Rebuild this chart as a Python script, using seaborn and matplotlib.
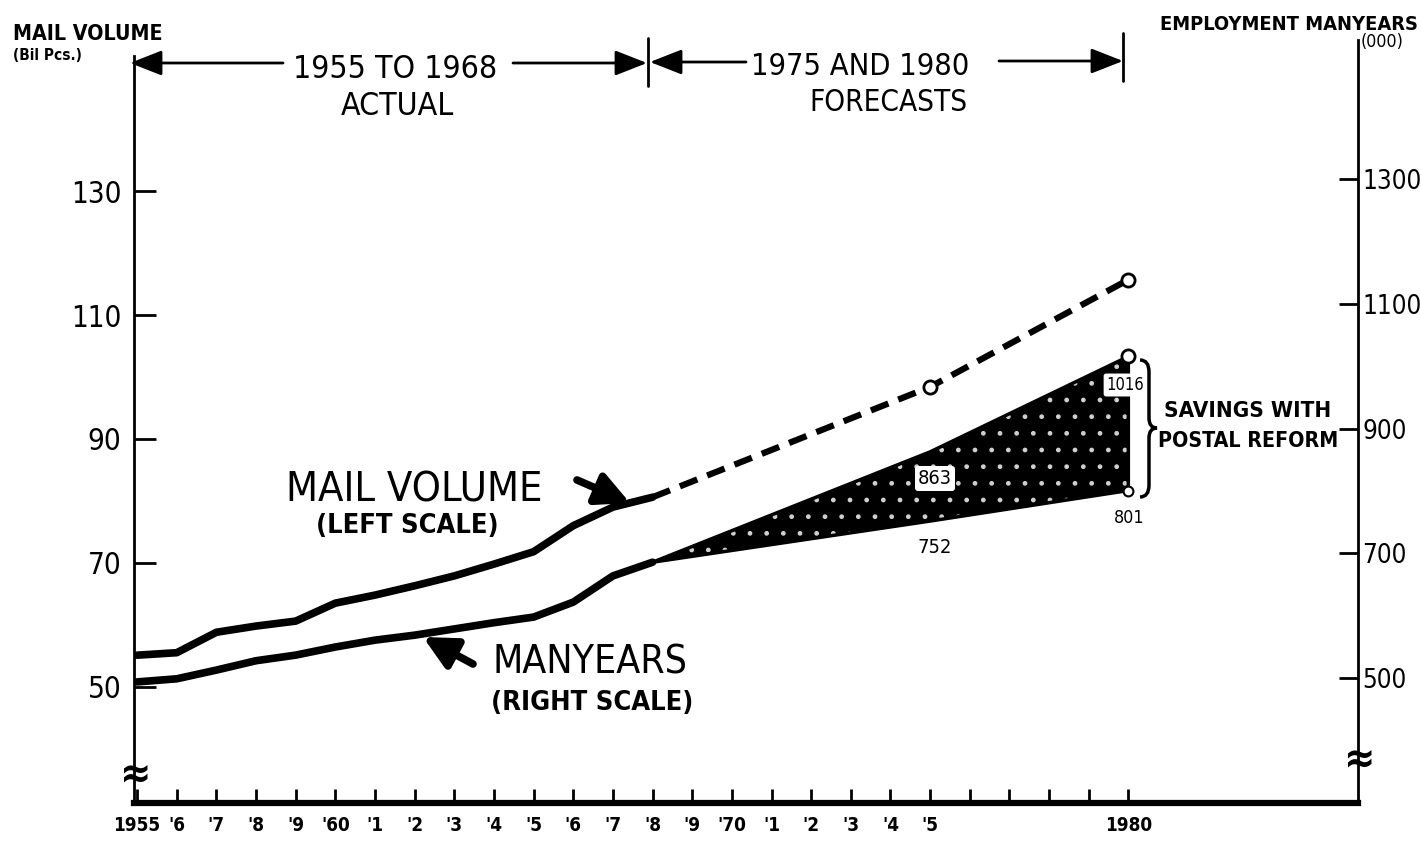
import matplotlib
matplotlib.use("Agg")
import matplotlib.pyplot as plt
from matplotlib import font_manager as fm
from matplotlib.path import Path
from matplotlib.patches import PathPatch
import pandas as pd
import seaborn as sns

# ---------------- data ----------------
years = [1955, 1956, 1957, 1958, 1959, 1960, 1961, 1962, 1963, 1964, 1965, 1966, 1967, 1968]
mail_volume = [55.1, 55.5, 58.8, 59.8, 60.6, 63.5, 64.8, 66.3, 67.9, 69.8, 71.8, 76.0, 79.0, 80.6]
manyears = [494, 499, 513, 528, 537, 550, 561, 569, 579, 589, 598, 622, 664, 686]

forecast_years = [1968, 1975, 1980]
mail_forecast = [80.6, 98.4, 115.7]
manyears_forecast_low = [686, 752, 801]
manyears_forecast_high = [686, 863, 1016]

left_ticks = [50, 70, 90, 110, 130]
right_ticks = [500, 700, 900, 1100, 1300]
x_ticks = list(range(1955, 1981))
x_tick_labels = ["1955", "'6", "'7", "'8", "'9", "'60", "'1", "'2", "'3", "'4", "'5",
                 "'6", "'7", "'8", "'9", "'70", "'1", "'2", "'3", "'4", "'5",
                 "", "", "", "", "1980"]

actual = pd.DataFrame({"year": years, "mail": mail_volume, "manyears": manyears})
forecast = pd.DataFrame({"year": forecast_years, "mail": mail_forecast,
                         "low": manyears_forecast_low, "high": manyears_forecast_high})

# ---------------- style ----------------
sns.set_theme(style="white", rc={"axes.edgecolor": "black", "text.color": "black",
                                 "xtick.color": "black", "ytick.color": "black",
                                 "axes.labelcolor": "black"})
names = {f.name for f in fm.fontManager.ttflist}
if "Liberation Sans Narrow" in names:
    plt.rcParams["font.family"] = ["Liberation Sans Narrow", "DejaVu Sans"]
    K = 1.0
else:
    plt.rcParams["font.family"] = ["DejaVu Sans"]
    cond = any(f.name == "DejaVu Sans" and str(f.stretch) in ("condensed", "semi-condensed")
               for f in fm.fontManager.ttflist)
    if cond:
        plt.rcParams["font.stretch"] = "condensed"
        K = 0.85
    else:
        K = 0.74

W, H = 1421, 847
fig = plt.figure(figsize=(W / 100, H / 100), dpi=100)
fig.patch.set_facecolor("white")
L, R, T, B = 134, 1358, 40, 803
ax = fig.add_axes([L / W, 1 - B / H, (R - L) / W, (B - T) / H])
ax2 = ax.twinx()


def P(x, y):
    return (x / W, 1 - y / H)


# ---------------- marks ----------------
ax2.fill_between(forecast["year"], forecast["low"], forecast["high"],
                 facecolor="black", edgecolor="#cfcfcf", hatch=".", linewidth=0, zorder=2)
ax2.fill_between(forecast["year"], forecast["low"], forecast["high"],
                 facecolor="none", edgecolor="black", linewidth=2.5, zorder=2)

sns.lineplot(data=actual, x="year", y="mail", ax=ax, color="black", lw=5.5,
             solid_capstyle="round", solid_joinstyle="round", zorder=3)
sns.lineplot(data=actual, x="year", y="manyears", ax=ax2, color="black", lw=5.5,
             solid_capstyle="round", solid_joinstyle="round", zorder=3)
sns.lineplot(data=forecast, x="year", y="mail", ax=ax, color="black", lw=4.5,
             linestyle=(0, (3, 1.7)), dash_capstyle="butt", zorder=3)

sns.scatterplot(data=forecast.iloc[1:], x="year", y="mail", ax=ax, s=90,
                facecolor="white", edgecolor="black", linewidth=2, zorder=5)
sns.scatterplot(x=[forecast_years[-1]], y=[manyears_forecast_high[-1]], ax=ax2, s=90,
                facecolor="white", edgecolor="black", linewidth=2, zorder=5)
sns.scatterplot(x=[forecast_years[-1]], y=[manyears_forecast_low[-1]], ax=ax2, s=50,
                facecolor="white", edgecolor="black", linewidth=1.5, zorder=5)

# ---------------- axes ----------------
X0 = 137.1
STEP = 39.65
ax.set_xlim(1955 - (X0 - L) / STEP, 1955 + (R - X0) / STEP)
ax.set_ylim(31.24, 154.4)
ax2.set_ylim(299.8, 1523.6)

for a in (ax, ax2):
    a.set_xlabel("")
    a.set_ylabel("")
    a.grid(False)
ax.spines["top"].set_visible(False)
ax.spines["right"].set_visible(False)
ax2.spines["top"].set_visible(False)
ax2.spines["left"].set_visible(False)
ax2.spines["bottom"].set_visible(False)
ax.spines["bottom"].set_linewidth(4.5)
ax.spines["left"].set_linewidth(2)
ax2.spines["right"].set_linewidth(2)
ax.spines["left"].set_bounds(31.24, 151.8)

ax.set_yticks(left_ticks)
ax.set_yticklabels([str(v) for v in left_ticks])
ax2.set_yticks(right_ticks)
ax2.set_yticklabels([str(v) for v in right_ticks])
ax.set_xticks(x_ticks)
ax.set_xticklabels(x_tick_labels)

ax.tick_params(axis="y", direction="in", length=16, width=2, pad=9, labelsize=25 * K, left=True)
ax2.tick_params(axis="y", direction="in", length=14, width=2, pad=3, labelsize=22 * K, right=True)
ax.tick_params(axis="x", direction="in", length=10, width=2, pad=9, labelsize=16 * K, bottom=True)
for lab in ax.get_xticklabels():
    lab.set_fontweight("bold")

# ---------------- texts ----------------
def txt(x, y, s, size, ha="center", weight="normal"):
    fig.text(*P(x, y), s, fontsize=size * K, ha=ha, va="baseline", fontweight=weight)


txt(13, 40, "MAIL VOLUME", 18, ha="left", weight="bold")
txt(13, 60, "(Bil Pcs.)", 13, ha="left", weight="bold")
txt(1418, 30, "EMPLOYMENT MANYEARS", 17, ha="right", weight="bold")
txt(1382, 47, "(000)", 15)

txt(395, 78, "1955 TO 1968", 27)
txt(397, 115, "ACTUAL", 27)
txt(860, 75, "1975 AND 1980", 26)
txt(888, 111, "FORECASTS", 25)

txt(414, 502, "MAIL VOLUME", 35)
txt(407, 533, "(LEFT SCALE)", 23, weight="bold")
txt(590, 673, "MANYEARS", 33)
txt(592, 710, "(RIGHT SCALE)", 23, weight="bold")

txt(1248, 417, "SAVINGS WITH", 19, weight="bold")
txt(1248, 447, "POSTAL REFORM", 18, weight="bold")

box = dict(boxstyle="round,pad=0.15", fc="white", ec="none")
fig.text(*P(1125, 390), "1016", fontsize=14 * K, ha="center", va="baseline", bbox=box, zorder=6)
fig.text(*P(935, 484), "863", fontsize=17 * K, ha="center", va="baseline", bbox=box, zorder=6)
txt(935, 553, "752", 17)
txt(1129, 523, "801", 15)


# top arrows
def arrow(x1, y1, x2, y2, lw=2, ms=14, hl=1.4, hw=0.55):
    fig.add_artist(matplotlib.patches.FancyArrowPatch(
        P(x1, y1), P(x2, y2), transform=fig.transFigure,
        arrowstyle=f"-|>,head_length={hl},head_width={hw}", mutation_scale=ms,
        lw=lw, color="black", shrinkA=0, shrinkB=0))


def line(x1, y1, x2, y2, lw=2):
    fig.add_artist(matplotlib.lines.Line2D([x1 / W, x2 / W], [1 - y1 / H, 1 - y2 / H],
                                           transform=fig.transFigure, color="black", lw=lw))


arrow(283, 63, 130, 63)
arrow(513, 63, 647, 63)
arrow(746, 62, 650, 62)
arrow(999, 61, 1123, 61)
line(648, 38, 648, 86)
line(1123, 33, 1123, 81)

# pointer arrows
arrow(577, 480, 630, 503, lw=5.5, ms=14, hl=1.4, hw=0.7)
arrow(473, 664, 423, 637, lw=5.5, ms=14, hl=1.4, hw=0.7)

# brace
verts = [P(1140, 360), P(1149, 360), P(1149, 372), P(1149, 418), P(1149, 428), P(1157, 428),
         P(1149, 428), P(1149, 438), P(1149, 485), P(1149, 497), P(1140, 497)]
codes = [Path.MOVETO, Path.CURVE3, Path.CURVE3, Path.LINETO, Path.CURVE3, Path.CURVE3,
         Path.CURVE3, Path.CURVE3, Path.LINETO, Path.CURVE3, Path.CURVE3]
fig.add_artist(PathPatch(Path(verts, codes), transform=fig.transFigure, fill=False,
                         lw=2.5, ec="black"))

# axis break marks
fig.text(*P(136, 770), "≈", fontsize=30, ha="center", va="center_baseline",
         family="DejaVu Sans", fontweight="bold")
fig.text(*P(1360, 755), "≈", fontsize=30, ha="center", va="center_baseline",
         family="DejaVu Sans", fontweight="bold")

fig.savefig("out.png", dpi=100, facecolor="white")
